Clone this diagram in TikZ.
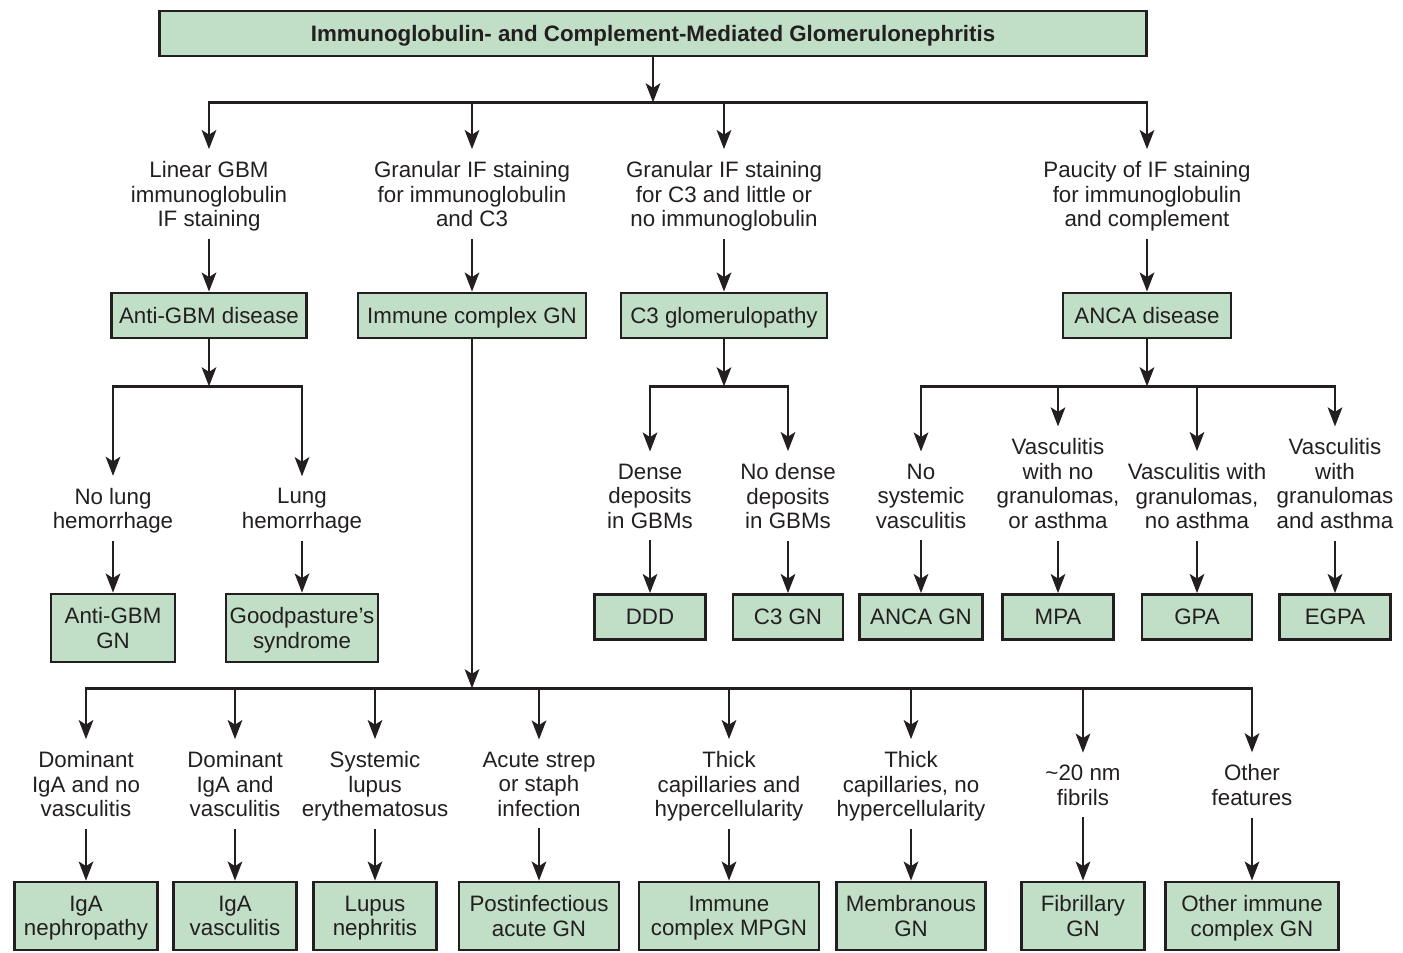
\documentclass[tikz,border=0pt]{standalone}
\usepackage{fontspec}
\setmainfont{Liberation Sans}
\usepackage{xcolor}
\usetikzlibrary{arrows.meta}
\usetikzlibrary{positioning}
\definecolor{boxgreen}{RGB}{193,222,198}
\definecolor{inkline}{RGB}{35,31,32}

\begin{document}
\begin{tikzpicture}[x=0.02cm, y=-0.02cm]
\tikzset{
box/.style={draw=inkline, fill=boxgreen, line width=1.6pt, align=center, inner sep=0pt,
    minimum height=0.9cm, text depth=0pt, text=inkline, font=\fontsize{12.7}{13.9}\selectfont},
tallbox/.style={box, minimum height=1.36cm},
titlebox/.style={box, font=\fontsize{12.7}{13.9}\selectfont\bfseries},
cond/.style={align=center, inner xsep=0pt, inner ysep=0.24cm, text depth=0pt, text=inkline,
    font=\fontsize{12.7}{13.9}\selectfont},
arrowline/.style={draw=inkline, line width=1.6pt,
    -{Stealth[length=0.38cm, width=0.29cm, inset=0.09cm]}}
}
\useasboundingbox (0,0) rectangle (1403,953);

\node[titlebox, minimum width=19.74cm] (title) at (653,33.5) {Immunoglobulin- and Complement-Mediated Glomerulonephritis};
\coordinate[below=0.9cm of title] (top);

\node[cond] (linear) at (209,194) {Linear GBM\\immunoglobulin\\IF staining};
\node[cond] (granular) at (472,194) {Granular IF staining\\for immunoglobulin\\and C3};
\node[cond] (granularc) at (724,194) {Granular IF staining\\for C3 and little or\\no immunoglobulin};
\node[cond] (paucity) at (1147,194) {Paucity of IF staining\\for immunoglobulin\\and complement};

\node[box, minimum width=3.9cm] (antigbm) at (209,315.5) {Anti-GBM disease};
\node[box, minimum width=4.56cm] (immune) at (472,315.5) {Immune complex GN};
\node[box, minimum width=4.12cm] (cthree) at (724,315.5) {C3 glomerulopathy};
\node[box, minimum width=3.36cm] (anca) at (1147,315.5) {ANCA disease};

\draw[arrowline] (title) -- (top);
\draw[arrowline] (top) -| (linear.north);
\draw[arrowline] (top) -| (granular.north);
\draw[arrowline] (top) -| (granularc.north);
\draw[arrowline] (top) -| (paucity.north);
\draw[arrowline] (linear) -- (antigbm);
\draw[arrowline] (granular) -- (immune);
\draw[arrowline] (granularc) -- (cthree);
\draw[arrowline] (paucity) -- (anca);

\coordinate[below=0.94cm of antigbm] (gbmfork);
\node[cond] (nolung) at (113,508.5) {No lung\\hemorrhage};
\node[cond] (lung) at (302,508.5) {Lung\\hemorrhage};
\node[tallbox, minimum width=2.48cm] (gbmgn) at (113,628) {Anti-GBM\\GN};
\node[tallbox, minimum width=3.04cm] (goodpasture) at (302,628) {Goodpasture's\\syndrome};
\draw[arrowline] (antigbm) -- (gbmfork);
\draw[arrowline] (gbmfork) -| (nolung.north);
\draw[arrowline] (gbmfork) -| (lung.north);
\draw[arrowline] (nolung) -- (gbmgn);
\draw[arrowline] (lung) -- (goodpasture);

\coordinate[below=0.94cm of cthree] (cfork);
\node[cond] (dense) at (650,496) {Dense\\deposits\\in GBMs};
\node[cond] (nodense) at (788,496) {No dense\\deposits\\in GBMs};
\node[box, minimum width=2.22cm] (ddd) at (650,617) {DDD};
\node[box, minimum width=2.2cm] (cgn) at (788,617) {C3 GN};
\draw[arrowline] (cthree) -- (cfork);
\draw[arrowline] (cfork) -| (dense.north);
\draw[arrowline] (cfork) -| (nodense.north);
\draw[arrowline] (dense) -- (ddd);
\draw[arrowline] (nodense) -- (cgn);

\coordinate[below=0.94cm of anca] (ancafork);
\node[cond] (nosys) at (921,496) {No\\systemic\\vasculitis};
\node[cond] (nogran) at (1058,483.5) {Vasculitis\\with no\\granulomas,\\or asthma};
\node[cond] (gran) at (1197,496) {Vasculitis with\\granulomas,\\no asthma};
\node[cond] (granasth) at (1335,483.5) {Vasculitis\\with\\granulomas\\and asthma};
\node[box, minimum width=2.46cm] (ancagn) at (921,617) {ANCA GN};
\node[box, minimum width=2.22cm] (mpa) at (1058,617) {MPA};
\node[box, minimum width=2.2cm] (gpa) at (1197,617) {GPA};
\node[box, minimum width=2.22cm] (egpa) at (1335,617) {EGPA};
\draw[arrowline] (anca) -- (ancafork);
\draw[arrowline] (ancafork) -| (nosys.north);
\draw[arrowline] (ancafork) -| (nogran.north);
\draw[arrowline] (ancafork) -| (gran.north);
\draw[arrowline] (ancafork) -| (granasth.north);
\draw[arrowline] (nosys) -- (ancagn);
\draw[arrowline] (nogran) -- (mpa);
\draw[arrowline] (gran) -- (gpa);
\draw[arrowline] (granasth) -- (egpa);

\coordinate[below=6.98cm of immune] (icfork);
\node[cond] (igano) at (86,784) {Dominant\\IgA and no\\vasculitis};
\node[cond] (igavas) at (235,784) {Dominant\\IgA and\\vasculitis};
\node[cond] (lupus) at (375,784) {Systemic\\lupus\\erythematosus};
\node[cond] (strep) at (539,784) {Acute strep\\or staph\\infection};
\node[cond] (thick) at (729,784) {Thick\\capillaries and\\hypercellularity};
\node[cond] (thickno) at (911,784) {Thick\\capillaries, no\\hypercellularity};
\node[cond] (fibrils) at (1083,785) {\textasciitilde20 nm\\fibrils};
\node[cond] (otherf) at (1252,785) {Other\\features};
\node[tallbox, minimum width=2.86cm] (igan) at (86,916) {IgA\\nephropathy};
\node[tallbox, minimum width=2.46cm] (igav) at (235,916) {IgA\\vasculitis};
\node[tallbox, minimum width=2.46cm] (lupusn) at (375,916) {Lupus\\nephritis};
\node[tallbox, minimum width=3.2cm] (postinf) at (539,916) {Postinfectious\\acute GN};
\node[tallbox, minimum width=3.6cm] (mpgn) at (729,916) {Immune\\complex MPGN};
\node[tallbox, minimum width=2.98cm] (membranous) at (911,916) {Membranous\\GN};
\node[tallbox, minimum width=2.46cm] (fibgn) at (1083,916) {Fibrillary\\GN};
\node[tallbox, minimum width=3.46cm] (othergn) at (1252,916) {Other immune\\complex GN};
\draw[arrowline] (immune) -- (icfork);
\draw[arrowline] (icfork) -| (igano.north);
\draw[arrowline] (icfork) -| (igavas.north);
\draw[arrowline] (icfork) -| (lupus.north);
\draw[arrowline] (icfork) -| (strep.north);
\draw[arrowline] (icfork) -| (thick.north);
\draw[arrowline] (icfork) -| (thickno.north);
\draw[arrowline] (icfork) -| (fibrils.north);
\draw[arrowline] (icfork) -| (otherf.north);
\draw[arrowline] (igano) -- (igan);
\draw[arrowline] (igavas) -- (igav);
\draw[arrowline] (lupus) -- (lupusn);
\draw[arrowline] (strep) -- (postinf);
\draw[arrowline] (thick) -- (mpgn);
\draw[arrowline] (thickno) -- (membranous);
\draw[arrowline] (fibrils) -- (fibgn);
\draw[arrowline] (otherf) -- (othergn);
\end{tikzpicture}
\end{document}
